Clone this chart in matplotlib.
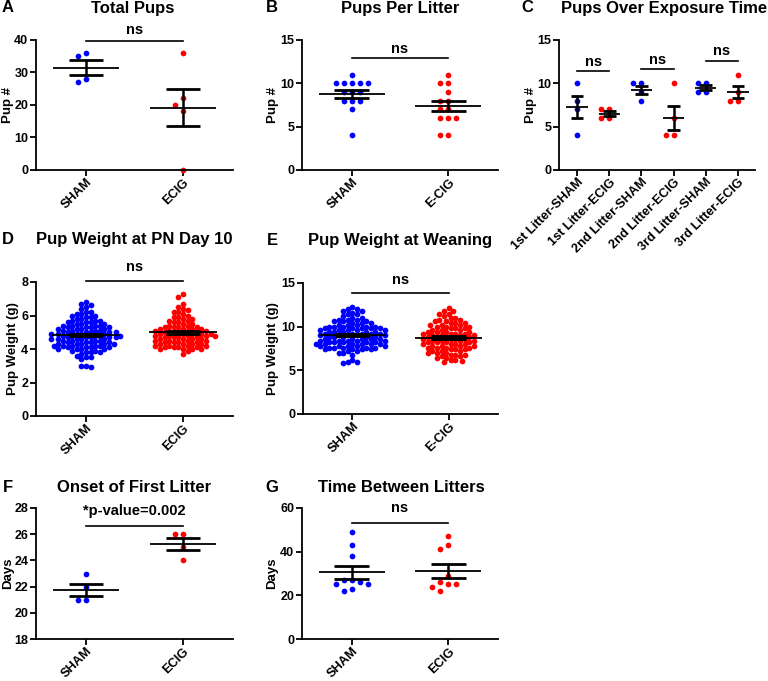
import numpy as np
import matplotlib
matplotlib.use("Agg")
import matplotlib.pyplot as plt

plt.rcParams["font.family"] = ["Liberation Sans", "DejaVu Sans"]
plt.rcParams["font.weight"] = "bold"
plt.rcParams["axes.labelweight"] = "bold"

BLUE = "#0000ff"
RED = "#ff0000"
W, H = 768, 681

# A - total pups
total_sham = [36, 35, 27, 28]
total_ecig = [36, 22, 20, 18, 0]

# B - pups per litter
litter_sham = [11, 10, 10, 10, 10, 10, 9, 9, 9, 8, 8, 8, 7, 4]
litter_ecig = [11, 10, 10, 9, 8, 8, 7, 7, 6, 6, 6, 4, 4]

# C - pups over exposure time
exposure_labels = ["1st Litter-SHAM", "1st Litter-ECIG", "2nd Litter-SHAM",
                   "2nd Litter-ECIG", "3rd Litter-SHAM", "3rd Litter-ECIG"]
exposure_1st_sham = [10, 8, 7, 4]
exposure_1st_ecig = [7, 7, 6, 6]
exposure_2nd_sham = [10, 10, 9, 8]
exposure_2nd_ecig = [10, 6, 4, 4]
exposure_3rd_sham = [10, 10, 9, 9]
exposure_3rd_ecig = [11, 9, 8, 8]

# D - pup weight at PN day 10 (value, count)
pn10_sham_w = [2.9, 3.0, 3.4, 3.5, 3.6, 3.7, 3.8, 3.9, 4.0, 4.1, 4.2, 4.3, 4.4, 4.5,
               4.6, 4.7, 4.8, 4.9, 5.0, 5.1, 5.2, 5.3, 5.4, 5.5, 5.6, 5.7, 5.8, 5.9,
               6.0, 6.1, 6.2, 6.4, 6.5, 6.6, 6.7, 6.8]
pn10_sham_n = [1, 2, 1, 2, 1, 1, 3, 2, 4, 4, 5, 5, 4, 4, 5, 5, 5, 5, 5, 4, 4, 4, 4,
               3, 3, 3, 2, 2, 2, 2, 2, 1, 1, 1, 1, 1]
pn10_ecig_w = [3.7, 3.9, 4.0, 4.1, 4.2, 4.3, 4.4, 4.5, 4.6, 4.7, 4.8, 4.9, 5.0, 5.1,
               5.2, 5.3, 5.4, 5.5, 5.6, 5.7, 5.8, 5.9, 6.0, 6.1, 6.2, 6.3, 6.4, 6.5,
               6.7, 7.1, 7.3]
pn10_ecig_n = [1, 1, 4, 4, 4, 4, 4, 4, 4, 4, 5, 5, 4, 4, 4, 4, 2, 2, 2, 2, 2, 2, 1,
               1, 2, 1, 1, 1, 1, 1, 1]

# E - pup weight at weaning (value, count)
wean_sham_w = [5.8, 6.0, 6.2, 6.8, 7.0, 7.2, 7.4, 7.6, 7.8, 8.0, 8.2, 8.4, 8.6, 8.8,
               9.0, 9.2, 9.4, 9.6, 9.8, 10.0, 10.2, 10.4, 10.6, 10.8, 11.0, 11.2,
               11.4, 11.6, 11.8, 12.0, 12.2]
wean_sham_n = [1, 2, 1, 1, 2, 2, 4, 5, 5, 6, 5, 5, 5, 5, 5, 5, 5, 5, 5, 5, 3, 3, 3,
               3, 2, 1, 2, 1, 2, 2, 1]
wean_ecig_w = [5.9, 6.1, 6.2, 6.4, 6.6, 6.8, 7.0, 7.2, 7.4, 7.6, 7.8, 8.0, 8.2, 8.4,
               8.6, 8.8, 9.0, 9.2, 9.4, 9.6, 9.8, 10.0, 10.2, 10.4, 10.6, 10.8, 11.0,
               11.2, 11.5, 11.8, 12.1]
wean_ecig_n = [1, 1, 2, 2, 2, 3, 3, 3, 3, 4, 4, 4, 4, 4, 4, 4, 4, 4, 4, 3, 3, 3, 3,
               3, 2, 2, 2, 1, 2, 2, 1]

# F - onset of first litter
onset_sham = [23, 22, 21, 21]
onset_ecig = [26, 26, 25, 24]

# G - time between litters
between_sham = [49, 43, 38, 27, 27, 26, 25, 25, 23, 22]
between_ecig = [47, 43, 41, 29, 26, 25, 25, 24, 22]


def make_axes(fig, x0, y0, x1, y1):
    ax = fig.add_axes([x0 / W, 1 - y1 / H, (x1 - x0) / W, (y1 - y0) / H])
    ax.spines["top"].set_visible(False)
    ax.spines["right"].set_visible(False)
    for s in ("left", "bottom"):
        ax.spines[s].set_linewidth(1.3)
    ax.tick_params(direction="out", length=4, width=1.3, labelsize=9, pad=1.5)
    ax.tick_params(axis="x", pad=0.5)
    return ax


def ylab(ax, text, center_px):
    # center_px: horizontal distance of label centre left of the y axis
    ax.set_ylabel(text, fontsize=9.5, va="center")
    w = ax.get_position().width * W
    ax.yaxis.set_label_coords(-center_px / w, 0.5)


def swarm(ax, x0, values, color, step_px=8, dist_px=7, s=17):
    vals = np.asarray(values, float)
    pts = ax.transData.transform(np.column_stack([np.full(len(vals), x0), vals]))
    ypx = pts[:, 1]
    unit = ax.transData.transform([(x0 + 1, 0)])[0, 0] - ax.transData.transform([(x0, 0)])[0, 0]
    cands = [0.0]
    for k in range(1, 120):
        cands += [-k * step_px, k * step_px]
    px_list, py_list = [], []
    offs = np.zeros(len(vals))
    for i in np.argsort(-vals, kind="stable"):
        px_arr = np.array(px_list)
        py_arr = np.array(py_list)
        for c in cands:
            if len(px_arr) == 0 or np.all((px_arr - c) ** 2 + (py_arr - ypx[i]) ** 2 >= dist_px ** 2):
                break
        px_list.append(c)
        py_list.append(ypx[i])
        offs[i] = c / unit
    ax.scatter(x0 + offs, vals, s=s, color=color, linewidths=0, zorder=2, clip_on=False)


def mean_sem(ax, x, values, half_mean=0.34, half_cap=0.18):
    v = np.asarray(values, float)
    m = v.mean()
    se = v.std(ddof=1) / np.sqrt(len(v))
    ax.hlines(m, x - half_mean, x + half_mean, color="black", lw=1.3, zorder=3)
    ax.vlines(x, m - se, m + se, color="black", lw=1.8, zorder=3)
    ax.hlines([m - se, m + se], x - half_cap, x + half_cap, color="black", lw=2.0, zorder=3)


def bracket(ax, xa, xb, y, ty, label="ns", size=10.5):
    ax.plot([xa, xb], [y, y], color="black", lw=1.2, clip_on=False, zorder=3)
    ax.text((xa + xb) / 2, ty, label, ha="center", va="center", fontsize=size,
            fontweight="bold")


def set_cats(ax, labels, size=9.2):
    ax.set_xticks(range(len(labels)))
    ax.set_xticklabels(labels, rotation=45, ha="right", rotation_mode="anchor", fontsize=size)


def ftext(x, y, s, size=12, ha="center"):
    fig.text(x / W, 1 - y / H, s, ha=ha, va="center", fontsize=size, fontweight="bold")


fig = plt.figure(figsize=(W / 100, H / 100), dpi=100)

# ---- A
ax = make_axes(fig, 36, 40, 233, 170)
ax.set_xlim(-0.515, 1.515)
ax.set_ylim(0, 40)
ax.set_yticks([0, 10, 20, 30, 40])
set_cats(ax, ["SHAM", "ECIG"])
ylab(ax, "Pup #", 28)
swarm(ax, 0, total_sham, BLUE)
swarm(ax, 1, total_ecig, RED)
mean_sem(ax, 0, total_sham)
mean_sem(ax, 1, total_ecig)
bracket(ax, 0, 1, 39.6, 43)

# ---- B
ax = make_axes(fig, 302, 40, 498, 170)
ax.set_xlim(-0.515, 1.515)
ax.set_ylim(0, 15)
ax.set_yticks([0, 5, 10, 15])
set_cats(ax, ["SHAM", "E-CIG"])
ylab(ax, "Pup #", 29)
swarm(ax, 0, litter_sham, BLUE)
swarm(ax, 1, litter_ecig, RED)
mean_sem(ax, 0, litter_sham)
mean_sem(ax, 1, litter_ecig)
bracket(ax, 0, 1, 12.9, 14.0)

# ---- C
ax = make_axes(fig, 559, 40, 755, 170)
ax.set_xlim(-0.56, 5.53)
ax.set_ylim(0, 15)
ax.set_yticks([0, 5, 10, 15])
set_cats(ax, exposure_labels)
ylab(ax, "Pup #", 28)
groups = [exposure_1st_sham, exposure_1st_ecig, exposure_2nd_sham,
          exposure_2nd_ecig, exposure_3rd_sham, exposure_3rd_ecig]
for i, g in enumerate(groups):
    swarm(ax, i, g, BLUE if i % 2 == 0 else RED)
    mean_sem(ax, i, g, half_mean=0.33, half_cap=0.2)
bracket(ax, 0, 1, 11.46, 12.5)
bracket(ax, 2, 3, 11.6, 12.7)
bracket(ax, 4, 5, 12.6, 13.75)

# ---- D
ax = make_axes(fig, 36, 282, 233, 416)
ax.set_xlim(-0.515, 1.515)
ax.set_ylim(0, 8)
ax.set_yticks([0, 2, 4, 6, 8])
set_cats(ax, ["SHAM", "ECIG"])
ylab(ax, "Pup Weight (g)", 23)
d_sham = np.repeat(pn10_sham_w, pn10_sham_n)
d_ecig = np.repeat(pn10_ecig_w, pn10_ecig_n)
swarm(ax, 0, d_sham, BLUE, step_px=2.3, dist_px=4.6)
swarm(ax, 1, d_ecig, RED, step_px=2.3, dist_px=4.6)
mean_sem(ax, 0, d_sham, half_mean=0.35)
mean_sem(ax, 1, d_ecig, half_mean=0.35)
bracket(ax, 0, 1, 8.06, 8.9)

# ---- E
ax = make_axes(fig, 303, 283, 498, 414)
ax.set_xlim(-0.515, 1.515)
ax.set_ylim(0, 15)
ax.set_yticks([0, 5, 10, 15])
set_cats(ax, ["SHAM", "E-CIG"])
ylab(ax, "Pup Weight (g)", 30)
e_sham = np.repeat(wean_sham_w, wean_sham_n)
e_ecig = np.repeat(wean_ecig_w, wean_ecig_n)
swarm(ax, 0, e_sham, BLUE, step_px=2.3, dist_px=4.6)
swarm(ax, 1, e_ecig, RED, step_px=2.3, dist_px=4.6)
mean_sem(ax, 0, e_sham, half_mean=0.35)
mean_sem(ax, 1, e_ecig, half_mean=0.35)
bracket(ax, 0, 1, 13.8, 15.3)

# ---- F
ax = make_axes(fig, 36, 508, 233, 639)
ax.set_xlim(-0.515, 1.515)
ax.set_ylim(18, 28)
ax.set_yticks([18, 20, 22, 24, 26, 28])
set_cats(ax, ["SHAM", "ECIG"])
ylab(ax, "Days", 28)
swarm(ax, 0, onset_sham, BLUE)
swarm(ax, 1, onset_ecig, RED)
mean_sem(ax, 0, onset_sham)
mean_sem(ax, 1, onset_ecig)
bracket(ax, 0, 1, 26.63, 27.8, label="*p-value=0.002")

# ---- G
ax = make_axes(fig, 302, 508, 498, 639)
ax.set_xlim(-0.515, 1.515)
ax.set_ylim(0, 60)
ax.set_yticks([0, 20, 40, 60])
set_cats(ax, ["SHAM", "ECIG"])
ylab(ax, "Days", 30)
swarm(ax, 0, between_sham, BLUE)
swarm(ax, 1, between_ecig, RED)
mean_sem(ax, 0, between_sham)
mean_sem(ax, 1, between_ecig)
bracket(ax, 0, 1, 53.1, 60.0)

# titles and panel letters
ftext(133, 8, "Total Pups")
ftext(400, 8, "Pups Per Litter")
ftext(664, 8, "Pups Over Exposure Time")
ftext(134, 239, "Pup Weight at PN Day 10")
ftext(400, 240, "Pup Weight at Weaning")
ftext(134, 487, "Onset of First Litter")
ftext(401, 487, "Time Between Litters")
for letter, x, y in [("A", 8, 8), ("B", 272, 8), ("C", 527, 8), ("D", 8, 239),
                     ("E", 272, 240), ("F", 8, 487), ("G", 272, 487)]:
    ftext(x, y, letter)

fig.savefig("out.png", dpi=100)
